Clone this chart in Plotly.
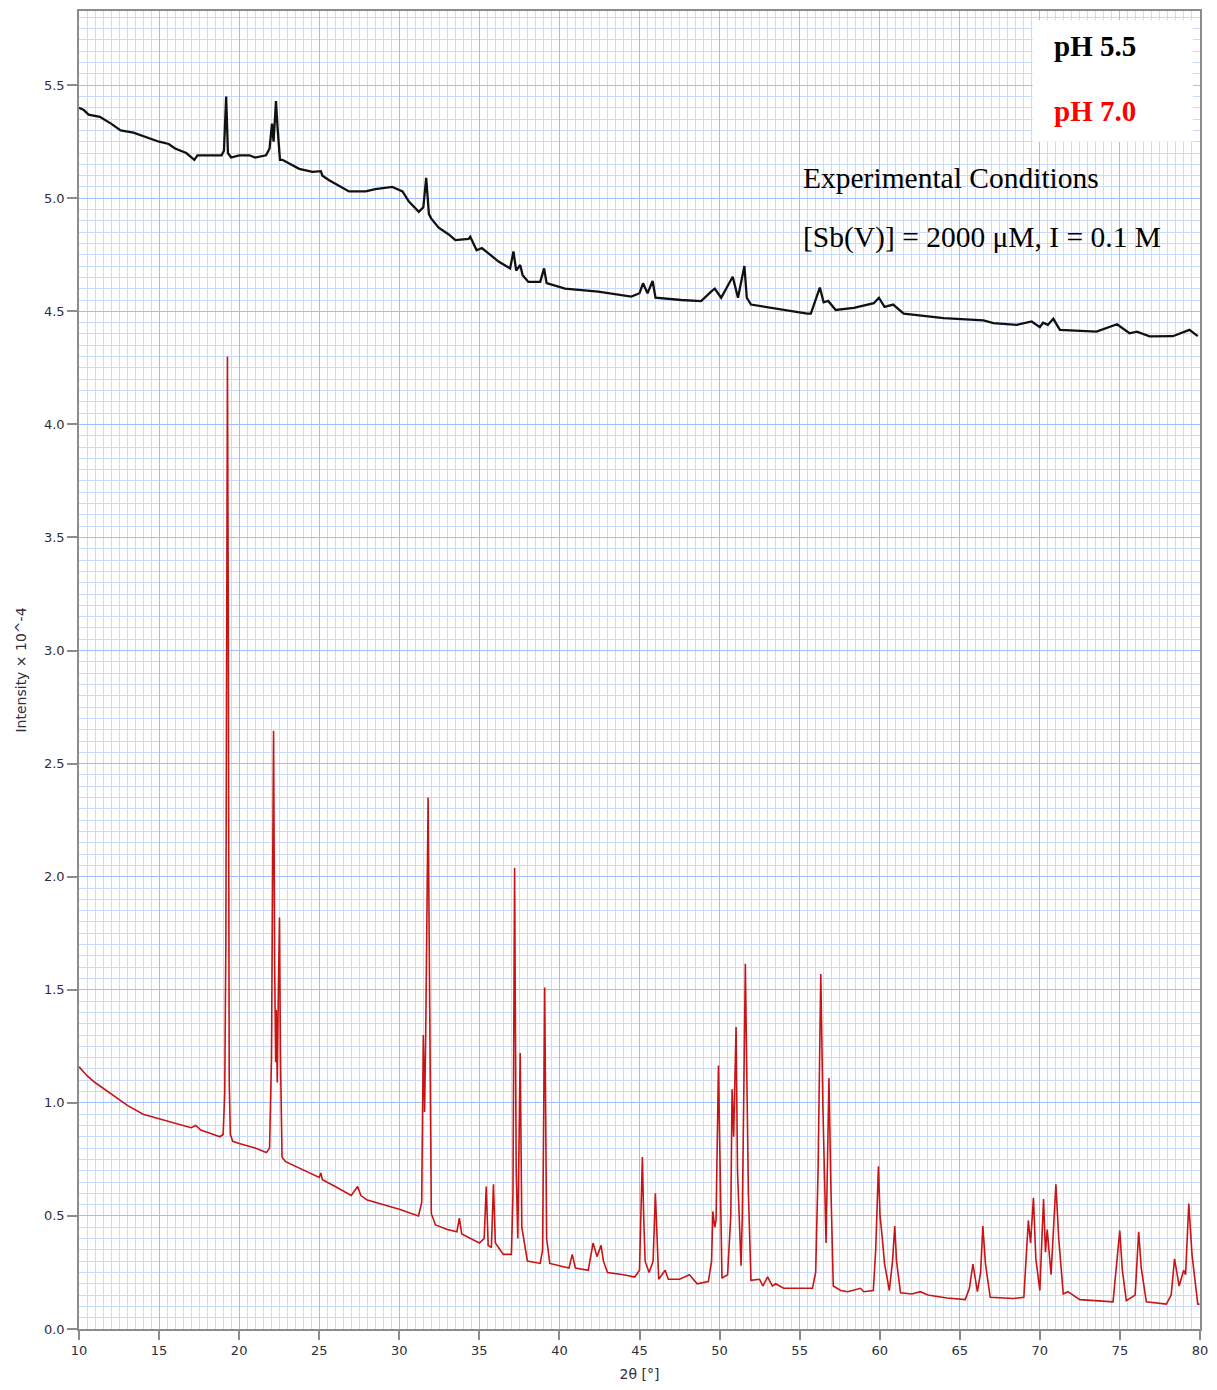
import plotly.graph_objects as go

# ---- pH 7.0 (red) pattern: 2theta [deg], intensity x 10^-4 ----
red_2theta = [10.0, 10.5, 11.0, 12.0, 13.0, 14.0, 15.0, 16.0, 17.0, 17.3, 17.6, 18.0, 18.8, 19.0,
              19.1, 19.17, 19.22, 19.27, 19.32, 19.38, 19.45, 19.6, 20.0, 21.0, 21.7, 21.9,
              22.02, 22.1, 22.15, 22.22, 22.28, 22.32, 22.38, 22.45, 22.52, 22.58, 22.68, 22.9,
              23.5, 24.0, 25.0, 25.1, 25.2, 26.0, 27.0, 27.4, 27.6, 28.0, 29.0, 30.0, 30.8, 31.2,
              31.4, 31.5, 31.58, 31.65, 31.8, 31.9, 32.0, 32.26, 33.0, 33.6, 33.75, 33.9, 34.5,
              35.0, 35.3, 35.43, 35.55, 35.75, 35.88, 36.0, 36.5, 37.0, 37.1, 37.2, 37.3, 37.4,
              37.55, 37.65, 38.0, 38.8, 38.95, 39.08, 39.2, 39.4, 40.0, 40.6, 40.8, 41.0, 41.8,
              42.1, 42.35, 42.6, 42.75, 43.0, 44.0, 44.7, 45.0, 45.18, 45.26, 45.35, 45.6, 45.85,
              45.99, 46.08, 46.2, 46.6, 46.8, 47.5, 48.12, 48.6, 49.3, 49.5, 49.58, 49.7, 49.78,
              49.93, 50.02, 50.15, 50.5, 50.7, 50.78, 50.88, 51.03, 51.12, 51.34, 51.42, 51.61,
              51.72, 51.8, 51.96, 52.5, 52.7, 53.0, 53.3, 53.5, 54.0, 55.0, 55.8, 56.0, 56.15,
              56.32, 56.45, 56.65, 56.83, 56.95, 57.1, 57.56, 58.0, 58.8, 59.0, 59.6, 59.75,
              59.92, 60.02, 60.15, 60.3, 60.6, 60.8, 60.94, 61.05, 61.3, 62.0, 62.54, 63.0, 64.2,
              65.34, 65.6, 65.82, 66.1, 66.3, 66.44, 66.6, 66.9, 68.35, 69.0, 69.15, 69.28, 69.42,
              69.6, 69.75, 70.0, 70.1, 70.23, 70.35, 70.46, 70.7, 70.85, 71.0, 71.18, 71.46,
              71.75, 72.5, 74.57, 74.75, 74.82, 74.99, 75.15, 75.4, 75.95, 76.17, 76.33, 76.65,
              77.9, 78.2, 78.41, 78.7, 78.98, 79.1, 79.3, 79.5, 79.86, 79.97]
red_intensity = [1.16, 1.12, 1.09, 1.04, 0.99, 0.95, 0.93, 0.91, 0.89, 0.90, 0.88, 0.87, 0.85, 0.86,
                 1.04, 1.70, 3.5, 4.30, 3.2, 1.10, 0.86, 0.83, 0.82, 0.80, 0.78, 0.80,
                 1.2, 2.2, 2.645, 1.6, 1.18, 1.41, 1.09, 1.5, 1.82, 1.2, 0.76, 0.74,
                 0.72, 0.70, 0.67, 0.69, 0.66, 0.63, 0.59, 0.63, 0.59, 0.57, 0.55, 0.53, 0.51, 0.50,
                 0.56, 1.30, 0.96, 1.3, 2.35, 1.2, 0.51, 0.46, 0.44, 0.43, 0.49, 0.42, 0.40,
                 0.38, 0.40, 0.63, 0.37, 0.36, 0.64, 0.38, 0.33, 0.33, 0.6, 2.04, 0.7, 0.40,
                 1.22, 0.45, 0.30, 0.29, 0.35, 1.51, 0.40, 0.29, 0.28, 0.27, 0.33, 0.27, 0.26,
                 0.38, 0.32, 0.37, 0.30, 0.25, 0.24, 0.23, 0.26, 0.76, 0.50, 0.30, 0.25, 0.30,
                 0.60, 0.42, 0.22, 0.26, 0.22, 0.22, 0.24, 0.20, 0.21, 0.30, 0.52, 0.45, 0.48,
                 1.165, 0.69, 0.225, 0.24, 0.50, 1.06, 0.85, 1.335, 0.70, 0.28, 0.50, 1.615,
                 0.92, 0.6, 0.215, 0.22, 0.19, 0.23, 0.19, 0.20, 0.18, 0.18, 0.18, 0.25, 0.70,
                 1.57, 0.99, 0.38, 1.11, 0.63, 0.19, 0.17, 0.165, 0.18, 0.165, 0.17, 0.35,
                 0.72, 0.50, 0.41, 0.29, 0.17, 0.30, 0.455, 0.30, 0.16, 0.155, 0.165, 0.15, 0.137,
                 0.13, 0.18, 0.287, 0.165, 0.25, 0.455, 0.29, 0.14, 0.135, 0.14, 0.3, 0.48, 0.38,
                 0.58, 0.31, 0.17, 0.35, 0.575, 0.34, 0.44, 0.24, 0.45, 0.64, 0.40, 0.155,
                 0.165, 0.13, 0.12, 0.25, 0.33, 0.435, 0.26, 0.125, 0.15, 0.43, 0.27, 0.12,
                 0.11, 0.15, 0.31, 0.19, 0.26, 0.24, 0.555, 0.33, 0.11, 0.11]

# ---- pH 5.5 (black) pattern ----
black_2theta = [10.0, 10.3, 10.6, 11.3, 12.0, 12.6, 13.4, 14.2, 15.0, 15.6, 16.0, 16.7, 17.2, 17.4,
                18.35, 18.9, 19.05, 19.19, 19.3, 19.5, 20.0, 20.64, 21.0, 21.68, 21.9, 22.05,
                22.15, 22.3, 22.4, 22.55, 22.7, 23.75, 24.58, 25.1, 25.2, 25.62, 26.86, 27.9,
                28.5, 29.56, 30.2, 30.6, 31.22, 31.5, 31.68, 31.85, 32.0, 32.46, 33.09, 33.5,
                34.33, 34.43, 34.83, 35.16, 36.2, 36.92, 37.13, 37.3, 37.55, 37.7, 38.06, 38.8,
                39.04, 39.2, 40.35, 42.42, 44.49, 45.0, 45.22, 45.5, 45.82, 46.0, 47.6, 48.85,
                49.47, 49.7, 49.9, 50.1, 50.82, 51.15, 51.55, 51.7, 51.96, 54.03, 55.48, 55.7,
                56.26, 56.5, 56.78, 57.25, 58.39, 59.63, 59.95, 60.3, 60.84, 61.5, 63.99, 66.48,
                67.1, 68.55, 69.49, 70.0, 70.2, 70.5, 70.84, 71.25, 73.54, 74.82, 75.6, 76.06,
                76.85, 78.3, 79.34, 79.86]
black_intensity = [5.40, 5.39, 5.37, 5.36, 5.33, 5.30, 5.29, 5.27, 5.25, 5.24, 5.22, 5.20, 5.17, 5.19,
                   5.19, 5.19, 5.21, 5.45, 5.20, 5.18, 5.19, 5.19, 5.18, 5.19, 5.22, 5.33,
                   5.25, 5.43, 5.31, 5.17, 5.17, 5.13, 5.117, 5.12, 5.10, 5.08, 5.03, 5.03,
                   5.04, 5.05, 5.03, 4.985, 4.94, 4.96, 5.09, 4.93, 4.91, 4.87, 4.84, 4.815,
                   4.82, 4.83, 4.77, 4.78, 4.72, 4.69, 4.765, 4.68, 4.705, 4.66, 4.63, 4.63,
                   4.69, 4.625, 4.60, 4.587, 4.565, 4.58, 4.624, 4.58, 4.634, 4.56, 4.55, 4.545,
                   4.587, 4.60, 4.58, 4.56, 4.653, 4.56, 4.70, 4.56, 4.53, 4.506, 4.49, 4.49,
                   4.605, 4.54, 4.546, 4.506, 4.515, 4.536, 4.56, 4.52, 4.53, 4.49, 4.47, 4.46,
                   4.448, 4.44, 4.455, 4.43, 4.45, 4.44, 4.467, 4.418, 4.41, 4.443, 4.403, 4.41,
                   4.389, 4.39, 4.418, 4.39]

series_names = ["pH 5.5", "pH 7.0"]
x_ticks = [10, 15, 20, 25, 30, 35, 40, 45, 50, 55, 60, 65, 70, 75, 80]
y_ticks = [0.0, 0.5, 1.0, 1.5, 2.0, 2.5, 3.0, 3.5, 4.0, 4.5, 5.0, 5.5]

fig = go.Figure()
fig.add_trace(go.Scatter(x=red_2theta, y=red_intensity, mode="lines", name=series_names[1],
                         line=dict(color="#c81414", width=1.6), hoverinfo="skip"))
fig.add_trace(go.Scatter(x=black_2theta, y=black_intensity, mode="lines", name=series_names[0],
                         line=dict(color="#111111", width=2.3), hoverinfo="skip"))

grid_major = "#9cc0ff"
grid_minor = "#c6dbff"
axis_font = dict(family="DejaVu Sans", size=13, color="#2e2e3a")
title_font = dict(family="DejaVu Sans", size=14, color="#2e2e3a")

fig.update_xaxes(range=[10, 80], tickmode="array", tickvals=x_ticks,
                 ticktext=[str(v) for v in x_ticks],
                 showgrid=True, gridcolor=grid_major, gridwidth=1,
                 minor=dict(dtick=0.5, showgrid=True, gridcolor=grid_minor, gridwidth=1),
                 showline=True, linecolor="#8c8c8c", linewidth=1.5, mirror=True,
                 ticks="outside", ticklen=9, tickcolor="#8c8c8c", tickwidth=1.5,
                 tickfont=axis_font, zeroline=False,
                 title=dict(text="2θ [°]", font=title_font, standoff=12))
fig.update_yaxes(range=[0, 5.828], tickmode="array", tickvals=y_ticks,
                 ticktext=[f"{v:.1f}" for v in y_ticks],
                 showgrid=True, gridcolor=grid_major, gridwidth=1,
                 minor=dict(dtick=0.05, showgrid=True, gridcolor=grid_minor, gridwidth=1),
                 showline=True, linecolor="#8c8c8c", linewidth=1.5, mirror=True,
                 ticks="outside", ticklen=10, tickcolor="#8c8c8c", tickwidth=1.5,
                 tickfont=axis_font, zeroline=False,
                 title=dict(text="Intensity × 10^-4", font=title_font, standoff=14))

# white legend box
fig.add_shape(type="rect", xref="paper", yref="paper", x0=0.8507, x1=0.9938, y0=0.9008, y1=0.993,
              fillcolor="white", line=dict(width=0), layer="above")

serif = "Liberation Serif"
fig.add_annotation(xref="paper", yref="paper", x=0.8684, y=0.9735, xanchor="left", yanchor="middle",
                   text="<b>pH 5.5</b>", showarrow=False, font=dict(family=serif, size=29, color="black"))
fig.add_annotation(xref="paper", yref="paper", x=0.8684, y=0.9245, xanchor="left", yanchor="middle",
                   text="<b>pH 7.0</b>", showarrow=False, font=dict(family=serif, size=29, color="#ff0000"))
fig.add_annotation(xref="paper", yref="paper", x=0.6444, y=0.8735, xanchor="left", yanchor="middle",
                   text="Experimental Conditions", showarrow=False,
                   font=dict(family=serif, size=29.5, color="black"))
fig.add_annotation(xref="paper", yref="paper", x=0.6444, y=0.828, xanchor="left", yanchor="middle",
                   text="[Sb(V)] = 2000 μM, I = 0.1 M", showarrow=False,
                   font=dict(family=serif, size=29.5, color="black"))

fig.update_layout(width=1217, height=1390, margin=dict(l=79, r=9, t=9, b=61),
                  plot_bgcolor="white", paper_bgcolor="white", showlegend=False)

fig.write_html("out.html")
